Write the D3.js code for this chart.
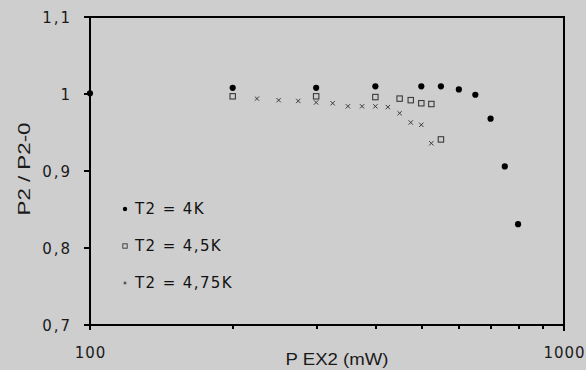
<!DOCTYPE html>
<html>
<head>
<meta charset="utf-8">
<script src="https://cdn.jsdelivr.net/npm/d3@7"></script>
<style>
  html, body { margin: 0; padding: 0; background: #cecece; }
  #wrap { position: relative; width: 586px; height: 370px; }
  #lines { position: absolute; left: 0; top: 0; width: 586px; height: 370px; }
  #lines div { position: absolute; background: #000; }
  svg { display: block; position: absolute; left: 0; top: 0; }
</style>
</head>
<body>
<div id="wrap"><div id="lines"></div><svg id="chart" width="586" height="370"></svg></div>
<script>
// Relative output P2 / P2-0 versus excitation power, three temperatures
const powerT4   = [100, 200, 300, 400, 500, 550, 600, 650, 700, 750, 800];
const ratioT4   = [1.001, 1.008, 1.008, 1.010, 1.010, 1.010, 1.006, 0.999, 0.968, 0.906, 0.831];

const powerT45  = [200, 300, 400, 450, 475, 500, 525, 550];
const ratioT45  = [0.997, 0.997, 0.996, 0.994, 0.992, 0.988, 0.987, 0.941];

const powerT475 = [225, 250, 275, 300, 325, 350, 375, 400, 425, 450, 475, 500, 525];
const ratioT475 = [0.994, 0.992, 0.991, 0.989, 0.988, 0.984, 0.984, 0.984, 0.983, 0.975, 0.963, 0.960, 0.936];

const seriesNames = ["T2 = 4K", "T2 = 4,5K", "T2 = 4,75K"];

const yTicks      = [0.7, 0.8, 0.9, 1.0, 1.1];
const yTickLabels = ["0,7", "0,8", "0,9", "1", "1,1"];
const xTicks      = [100, 200, 300, 400, 500, 600, 700, 800, 900, 1000];
const xTickLabels = ["100", "", "", "", "", "", "", "", "", "1000"];

const xTitle = "P EX2 (mW)";
const yTitle = "P2 / P2-0";

const svg = d3.select("#chart");
const plotLeft = 90, plotRight = 564, plotTop = 17, plotBottom = 325;

const x = d3.scaleLog().domain([100, 1000]).range([plotLeft, plotRight]);
const y = d3.scaleLinear().domain([0.7, 1.1]).range([plotBottom, plotTop]);

// Frame, axis lines and tick marks as solid HTML bars behind the svg
const lines = d3.select("#lines");
function bar(left, top, width, height) {
  lines.append("div")
    .style("left", Math.round(left) + "px")
    .style("top", Math.round(top) + "px")
    .style("width", Math.round(width) + "px")
    .style("height", Math.round(height) + "px");
}
const x0 = x(100), x1 = x(1000), yTop = y(1.1), yBot = y(0.7);
bar(x0 - 6, yTop - 1, x1 - x0 + 7, 2);          // top edge (with 1,1 tick)
bar(x0 - 6, yBot - 1, x1 - x0 + 7, 2);          // bottom axis (with 0,7 tick)
bar(x0 - 1, yTop - 1, 2, yBot - yTop + 6);      // left axis
bar(x1 - 1, yTop - 1, 2, yBot - yTop + 7);      // right edge
yTicks.forEach(t => bar(x0 - 6, y(t) - 1, 6, 2));
xTicks.filter(t => t !== 100 && t !== 1000)
  .forEach(t => bar(x(t) - 0.5, yBot, 1.5, 4));

// Y axis labels
const yAxis = svg.append("g")
  .attr("transform", `translate(${plotLeft},0)`)
  .call(d3.axisLeft(y).tickValues(yTicks).tickSize(6).tickPadding(12)
        .tickFormat((d, i) => yTickLabels[i]));
yAxis.select(".domain").remove();
yAxis.selectAll(".tick line").remove();
yAxis.selectAll(".tick text")
  .attr("fill", "#1a1a1a")
  .attr("font-family", "DejaVu Sans")
  .attr("font-size", 15)
  .attr("letter-spacing", "2px")
  .attr("dy", "0.36em");

// X axis labels (log scale)
const xAxis = svg.append("g")
  .attr("transform", `translate(0,${plotBottom})`)
  .call(d3.axisBottom(x).tickValues(xTicks).tickSize(4).tickPadding(0)
        .tickFormat((d, i) => xTickLabels[i]));
xAxis.select(".domain").remove();
xAxis.selectAll(".tick line").remove();
xAxis.selectAll(".tick text")
  .attr("fill", "#1a1a1a")
  .attr("font-family", "DejaVu Sans")
  .attr("font-size", 15)
  .attr("letter-spacing", "1px")
  .attr("y", 33)
  .attr("dy", 0);

// Axis titles
svg.append("text")
  .attr("x", 337).attr("y", 365)
  .attr("text-anchor", "middle")
  .attr("font-family", "Liberation Sans")
  .attr("font-size", 16)
  .attr("fill", "#1a1a1a")
  .attr("textLength", 103).attr("lengthAdjust", "spacingAndGlyphs")
  .text(xTitle);

svg.append("text")
  .attr("transform", "translate(30,169) rotate(-90)")
  .attr("text-anchor", "middle")
  .attr("font-family", "Liberation Sans")
  .attr("font-size", 16.5)
  .attr("fill", "#1a1a1a")
  .attr("textLength", 93).attr("lengthAdjust", "spacingAndGlyphs")
  .text(yTitle);

// Data marks
const plot = svg.append("g");

plot.selectAll("rect.t45")
  .data(d3.zip(powerT45, ratioT45))
  .join("rect")
  .attr("class", "t45")
  .attr("x", d => x(d[0]) - 2.7).attr("y", d => y(d[1]) - 2.7)
  .attr("width", 5.4).attr("height", 5.4)
  .attr("fill", "none").attr("stroke", "#3a3a3a").attr("stroke-width", 1.1);

const times = d3.symbol().type(d3.symbolTimes).size(14);
plot.selectAll("path.t475")
  .data(d3.zip(powerT475, ratioT475))
  .join("path")
  .attr("class", "t475")
  .attr("transform", d => `translate(${x(d[0])},${y(d[1])})`)
  .attr("d", times)
  .attr("fill", "#3a3a3a").attr("stroke", "#3a3a3a").attr("stroke-width", 1);

plot.selectAll("circle.t4")
  .data(d3.zip(powerT4, ratioT4))
  .join("circle")
  .attr("class", "t4")
  .attr("cx", d => x(d[0])).attr("cy", d => y(d[1]))
  .attr("r", 3.1)
  .attr("fill", "#000");

// Legend
const legend = svg.append("g");
const rowY = [209, 246, 283];
seriesNames.forEach((name, i) => {
  const g = legend.append("g").attr("transform", `translate(125,${rowY[i]})`);
  if (i === 0) {
    g.append("circle").attr("r", 2.2).attr("fill", "#000");
  } else if (i === 1) {
    g.append("rect").attr("x", -2.2).attr("y", -2.2).attr("width", 4.4).attr("height", 4.4)
      .attr("fill", "none").attr("stroke", "#444").attr("stroke-width", 1);
  } else {
    g.append("rect").attr("x", -1.3).attr("y", -1.3).attr("width", 2.6).attr("height", 2.6)
      .attr("fill", "#555");
  }
  g.append("text")
    .attr("x", 10).attr("dy", "0.36em")
    .attr("font-family", "DejaVu Sans")
    .attr("font-size", 15)
    .attr("letter-spacing", "1.4px")
    .attr("fill", "#111")
    .text(name);
});
</script>
</body>
</html>
